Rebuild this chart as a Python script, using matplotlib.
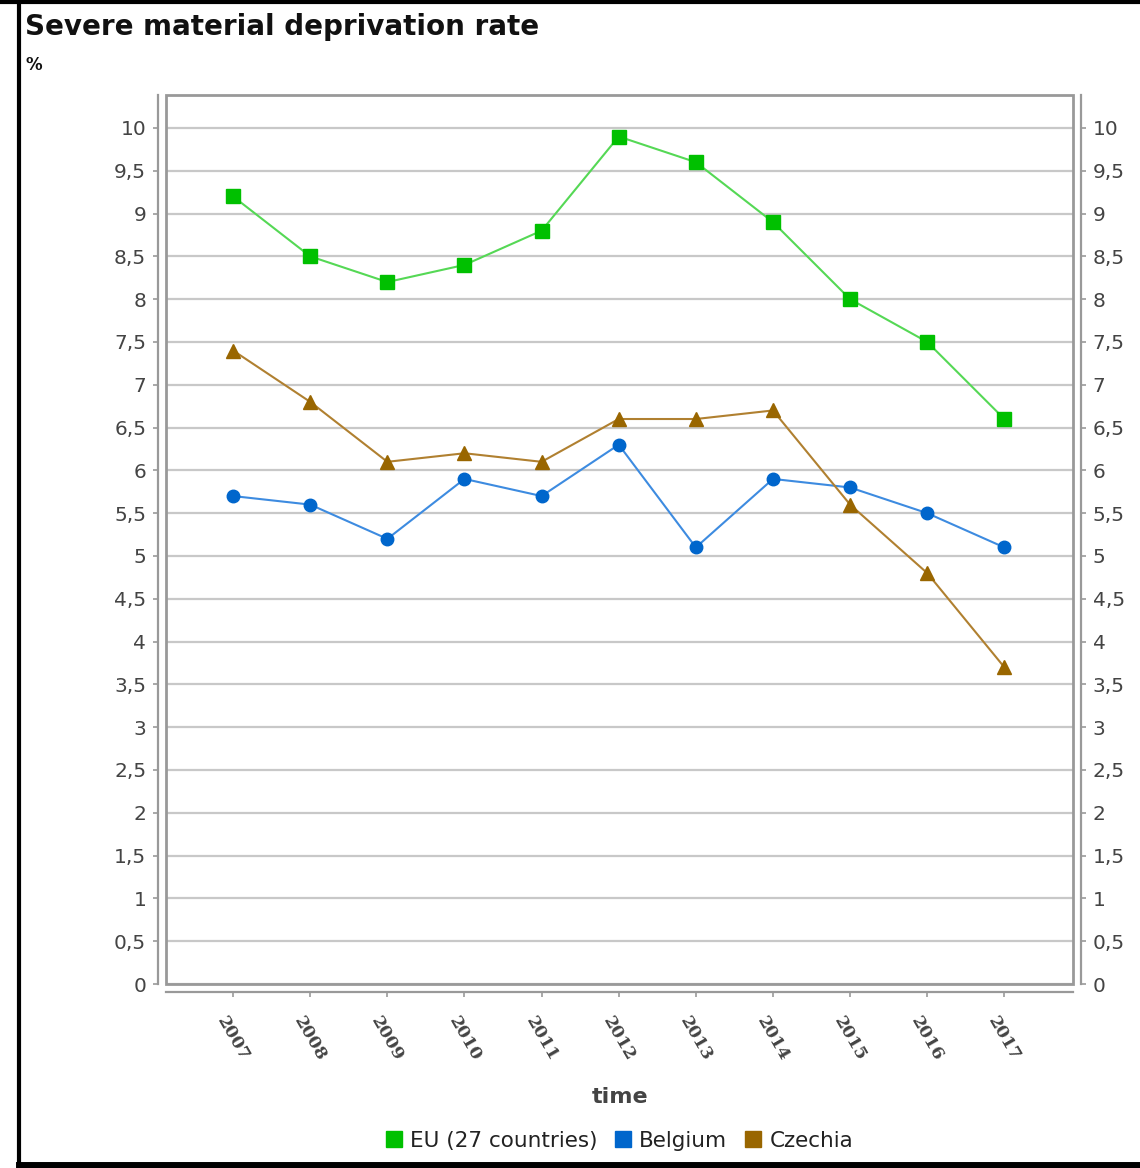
import matplotlib
matplotlib.use("Agg")
import matplotlib.pyplot as plt
from matplotlib.patches import Rectangle
from matplotlib.lines import Line2D
from matplotlib.ticker import FuncFormatter, MultipleLocator

years = ["2007", "2008", "2009", "2010", "2011", "2012", "2013", "2014", "2015", "2016", "2017"]
eu = [9.2, 8.5, 8.2, 8.4, 8.8, 9.9, 9.6, 8.9, 8.0, 7.5, 6.6]
belgium = [5.7, 5.6, 5.2, 5.9, 5.7, 6.3, 5.1, 5.9, 5.8, 5.5, 5.1]
czechia = [7.4, 6.8, 6.1, 6.2, 6.1, 6.6, 6.6, 6.7, 5.6, 4.8, 3.7]
series_names = ["EU (27 countries)", "Belgium", "Czechia"]

W, H = 1140, 1168
fig = plt.figure(figsize=(W / 100, H / 100), dpi=100)
plt.rcParams['font.family'] = ['DejaVu Sans']

L, R, T, B = 166, 1073, 95, 984
ax = fig.add_axes([L / W, 1 - B / H, (R - L) / W, (B - T) / H])

x = list(range(len(years)))
ax.plot(x, eu, color="#55d855", lw=1.5, marker="s", ms=9.5, mfc="#00c000", mec="#00c000", zorder=5)
ax.plot(x, belgium, color="#3d8be0", lw=1.5, marker="o", ms=9, mfc="#0066cc", mec="#0066cc", zorder=5)
ax.plot(x, czechia, color="#b08030", lw=1.5, marker="^", ms=9.5, mfc="#996600", mec="#996600", zorder=5)

ax.set_xlim(-0.87, 10.89)
ax.set_ylim(0, 10.385)
ax.yaxis.set_major_locator(MultipleLocator(0.5))
def fmt(v, pos):
    return ("%g" % round(v, 2)).replace(".", ",")
ax.yaxis.set_major_formatter(FuncFormatter(fmt))
ax.set_xticks(x)
ax.set_xticklabels(years)

ax.grid(axis="y", color="#c8c8c8", lw=1.6)
ax.set_axisbelow(True)

for s in ["left", "right", "bottom"]:
    ax.spines[s].set_position(("outward", 5.76))
    ax.spines[s].set_color("#999999")
    ax.spines[s].set_linewidth(1.6)
ax.spines["top"].set_visible(False)

ax.add_patch(Rectangle((0, 0), 1, 1, transform=ax.transAxes, fill=False,
                       ec="#999999", lw=2.0, zorder=3, clip_on=False))

ax.tick_params(axis="y", which="both", left=True, right=True, labelleft=True, labelright=True,
               length=3.5, width=1.2, color="#999999", labelsize=14.5, labelcolor="#444444", pad=5)
ax.tick_params(axis="x", length=3.5, width=1.2, color="#999999", pad=12)
for lbl in ax.get_xticklabels():
    lbl.set_rotation(-60)
    lbl.set_ha("center")
    lbl.set_va("top")
    lbl.set_fontfamily("DejaVu Serif")
    lbl.set_fontweight("bold")
    lbl.set_fontsize(12.5)
    lbl.set_color("#444444")

fig.text(25 / W, 1 - 27 / H, "Severe material deprivation rate", fontsize=20, fontweight="bold",
         ha="left", va="center", color="#111111")
fig.text(25 / W, 1 - 65 / H, "%", fontsize=12, fontweight="bold", ha="left", va="center", color="#111111")
fig.text(620 / W, 1 - 1097 / H, "time", fontsize=16, fontweight="bold", ha="center", va="center", color="#444444")

handles = [Line2D([], [], ls="none", marker="s", ms=11, mfc=c, mec=c)
           for c in ["#00c000", "#0066cc", "#996600"]]
fig.legend(handles, series_names, loc="center", bbox_to_anchor=(619 / W, 1 - 1141 / H),
           ncol=3, frameon=False, fontsize=15.5, handlelength=0.8, handletextpad=0.35,
           columnspacing=0.8, labelcolor="#222222")

# outer frame
fig.add_artist(Line2D([19 / W, 19 / W], [0, 1], transform=fig.transFigure, color="black", lw=3))
fig.add_artist(Line2D([0, 1], [1 - 1.5 / H, 1 - 1.5 / H], transform=fig.transFigure, color="black", lw=3))
fig.add_artist(Line2D([19 / W, 1], [3 / H, 3 / H], transform=fig.transFigure, color="black", lw=5))

fig.savefig("out.png", dpi=100)
